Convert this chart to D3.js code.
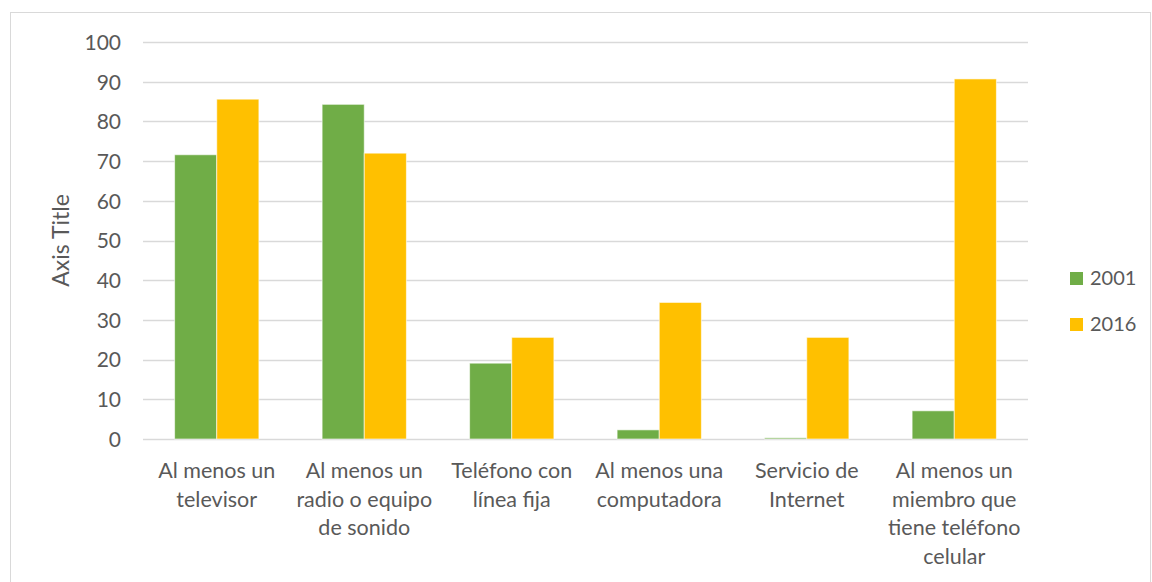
<!DOCTYPE html>
<html><head><meta charset="utf-8">
<script src="https://cdn.jsdelivr.net/npm/d3@7"></script>
<style>body{margin:0;background:#fff}svg{display:block}text{font-family:Lato,'Open Sans',sans-serif;fill:#595959}</style>
</head><body><svg id="c" width="1152" height="582"></svg>
<script>
const categories = [
  ["Al menos un","televisor"],
  ["Al menos un","radio o equipo","de sonido"],
  ["Teléfono con","línea fija"],
  ["Al menos una","computadora"],
  ["Servicio de","Internet"],
  ["Al menos un","miembro que","tiene teléfono","celular"]
];
const seriesNames = ["2001","2016"];
const values2001 = [71.6, 84.3, 19.1, 2.3, 0.3, 7.1];
const values2016 = [85.6, 72.0, 25.6, 34.4, 25.6, 90.7];
const yTicks = [0,10,20,30,40,50,60,70,80,90,100];
const colors = ["#70AD47","#FFC000"];

(function(){
const svg = d3.select("#c");
svg.append("rect").attr("x",10.5).attr("y",12.5).attr("width",1140).attr("height",575)
  .attr("fill","#fff").attr("stroke","#d9d9d9");

const pL=143, pR=1028, pT=42, pB=439;
const x0 = d3.scaleBand().domain(d3.range(categories.length)).range([pL,pR]).paddingInner(0).paddingOuter(0);
const bw = x0.bandwidth();
const barW = bw/3.5;
const y = d3.scaleLinear().domain([0,100]).range([pB,pT]);

svg.append("g").selectAll("line").data(yTicks).join("line")
  .attr("x1",pL).attr("x2",pR)
  .attr("y1",d=>Math.round(y(d))+0.5).attr("y2",d=>Math.round(y(d))+0.5)
  .attr("stroke","#d9d9d9").attr("stroke-width",1.3);

const yAxis = svg.append("g").attr("transform",`translate(${pL},0)`)
  .call(d3.axisLeft(y).tickValues(yTicks).tickSize(0).tickPadding(22));
yAxis.select(".domain").remove();
yAxis.selectAll("text").style("font-size","21px").style("font-family","Lato").attr("fill","#595959").attr("dy","0.35em");

const series = [values2001, values2016];
series.forEach((vals,si)=>{
  svg.append("g").selectAll("rect").data(vals).join("rect")
    .attr("x",(d,i)=>x0(i)+bw*0.75/3.5+si*barW)
    .attr("width",barW)
    .attr("y",d=>y(d))
    .attr("height",d=>y(0)-y(d))
    .attr("fill",colors[si])
    .attr("stroke","#fff").attr("stroke-opacity",0.6).attr("stroke-width",1);
});

const cl = svg.append("g");
categories.forEach((lines,i)=>{
  const t = cl.append("text").attr("text-anchor","middle").style("font-size","21.5px")
    .attr("transform",`translate(${x0(i)+bw/2},${478})`);
  lines.forEach((l,j)=>t.append("tspan").attr("x",0).attr("y",j*28.7).text(l));
});

svg.append("text").attr("transform",`translate(69,${(pT+pB)/2}) rotate(-90)`)
  .attr("text-anchor","middle").style("font-size","23px").text("Axis Title");

const lg = svg.append("g");
seriesNames.forEach((n,i)=>{
  const yy = 278 + i*46;
  lg.append("rect").attr("x",1070).attr("y",yy-6).attr("width",13).attr("height",13).attr("fill",colors[i]);
  lg.append("text").attr("x",1090).attr("y",yy).attr("dy","0.35em").style("font-size","20px").text(n);
});
})();
</script></body></html>
